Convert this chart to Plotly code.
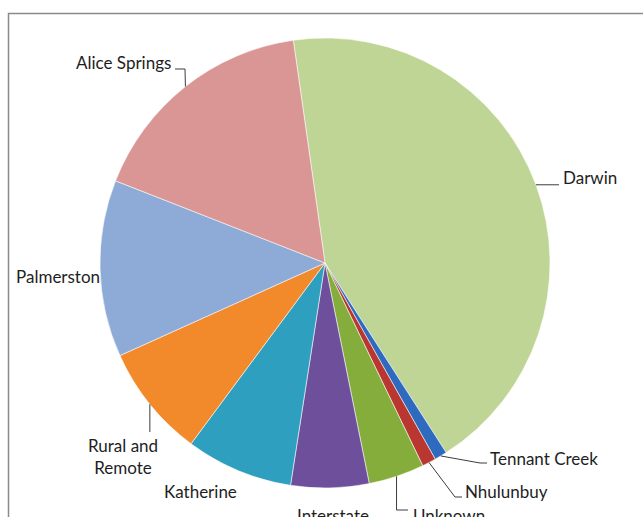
import math
import plotly.graph_objects as go

# ---- data (approximate shares in %) ----
labels = ["Darwin", "Tennant Creek", "Nhulunbuy", "Unknown", "Interstate",
          "Katherine", "Rural and Remote", "Palmerston", "Alice Springs"]
values = [43.2, 0.9, 1.0, 4.0, 5.6, 7.7, 8.1, 12.7, 16.8]
colors = ["#bfd595", "#2e6bbf", "#b93631", "#84ad3c", "#6e4f9c",
          "#2f9fbf", "#f28a2c", "#8eaad6", "#d99694"]

W, H = 643, 517
START_DEG = -8.1          # first slice starts slightly left of 12 o'clock
CX, CY, R = 325, 263, 225  # pie centre / radius in pixels

def px(x):
    return x / W

def py(y):
    return 1 - y / H

fig = go.Figure()
fig.add_trace(go.Pie(
    labels=labels, values=values, sort=False, direction="clockwise",
    rotation=START_DEG, textinfo="none", hoverinfo="label+percent",
    marker=dict(colors=colors, line=dict(color="rgba(255,255,255,0.55)", width=1)),
    domain=dict(x=[px(CX - R), px(CX + R)], y=[py(CY + R), py(CY - R)]),
    showlegend=False,
))

# mid-angle anchor points on the pie edge, from the data
total = sum(values)
mid = {}
acc = 0.0
for lab, v in zip(labels, values):
    a = math.radians(START_DEG + 360 * (acc + v / 2) / total)
    mid[lab] = (CX + R * math.sin(a), CY - R * math.cos(a))
    acc += v

# label layout: (text x, text y, xanchor, leader elbow points)
label_layout = {
    "Alice Springs": (173, 63, "right", [(185, 69), (175, 69)]),
    "Darwin": (561, 177, "left", [(559, None)]),
    "Palmerston": (14, 276, "left", []),
    "Rural and Remote": (123, 456, "center", [(None, 432)]),
    "Katherine": (200, 491, "center", []),
    "Interstate": (333, 515, "center", []),
    "Unknown": (411, 515, "left", [(None, 510), (408, 510)]),
    "Nhulunbuy": (463, 491, "left", [(455, 497), (462, 497)]),
    "Tennant Creek": (488, 458, "left", [(480, 463), (487, 463)]),
}

font = dict(family="Lato, Carlito, Arial", size=17, color="#1e1e1e")
shapes = []
annotations = []
for lab in labels:
    tx, ty, anc, pts = label_layout[lab]
    text = "Rural and<br>Remote" if lab == "Rural and Remote" else lab
    annotations.append(dict(x=px(tx), y=py(ty), xref="paper", yref="paper",
                            text=text, showarrow=False, xanchor=anc,
                            yanchor="middle", align="center", font=font))
    if pts:
        sx, sy = mid[lab]
        path = f"M {px(sx)} {py(sy)}"
        for (x, y) in pts:
            x = sx if x is None else x
            y = sy if y is None else y
            path += f" L {px(x)} {py(y)}"
        shapes.append(dict(type="path", path=path, xref="paper", yref="paper",
                           line=dict(color="#3c3c3c", width=1)))

# chart frame (extends past the visible crop)
shapes.append(dict(type="rect", xref="paper", yref="paper",
                   x0=px(8.5), y0=-0.2, x1=1.2, y1=py(13.5),
                   line=dict(color="#8a8a8a", width=1.5), fillcolor="rgba(0,0,0,0)",
                   layer="below"))

fig.update_layout(
    width=W, height=H, margin=dict(l=0, r=0, t=0, b=0),
    paper_bgcolor="white", plot_bgcolor="white",
    shapes=shapes, annotations=annotations,
)

fig.write_html("out.html")
